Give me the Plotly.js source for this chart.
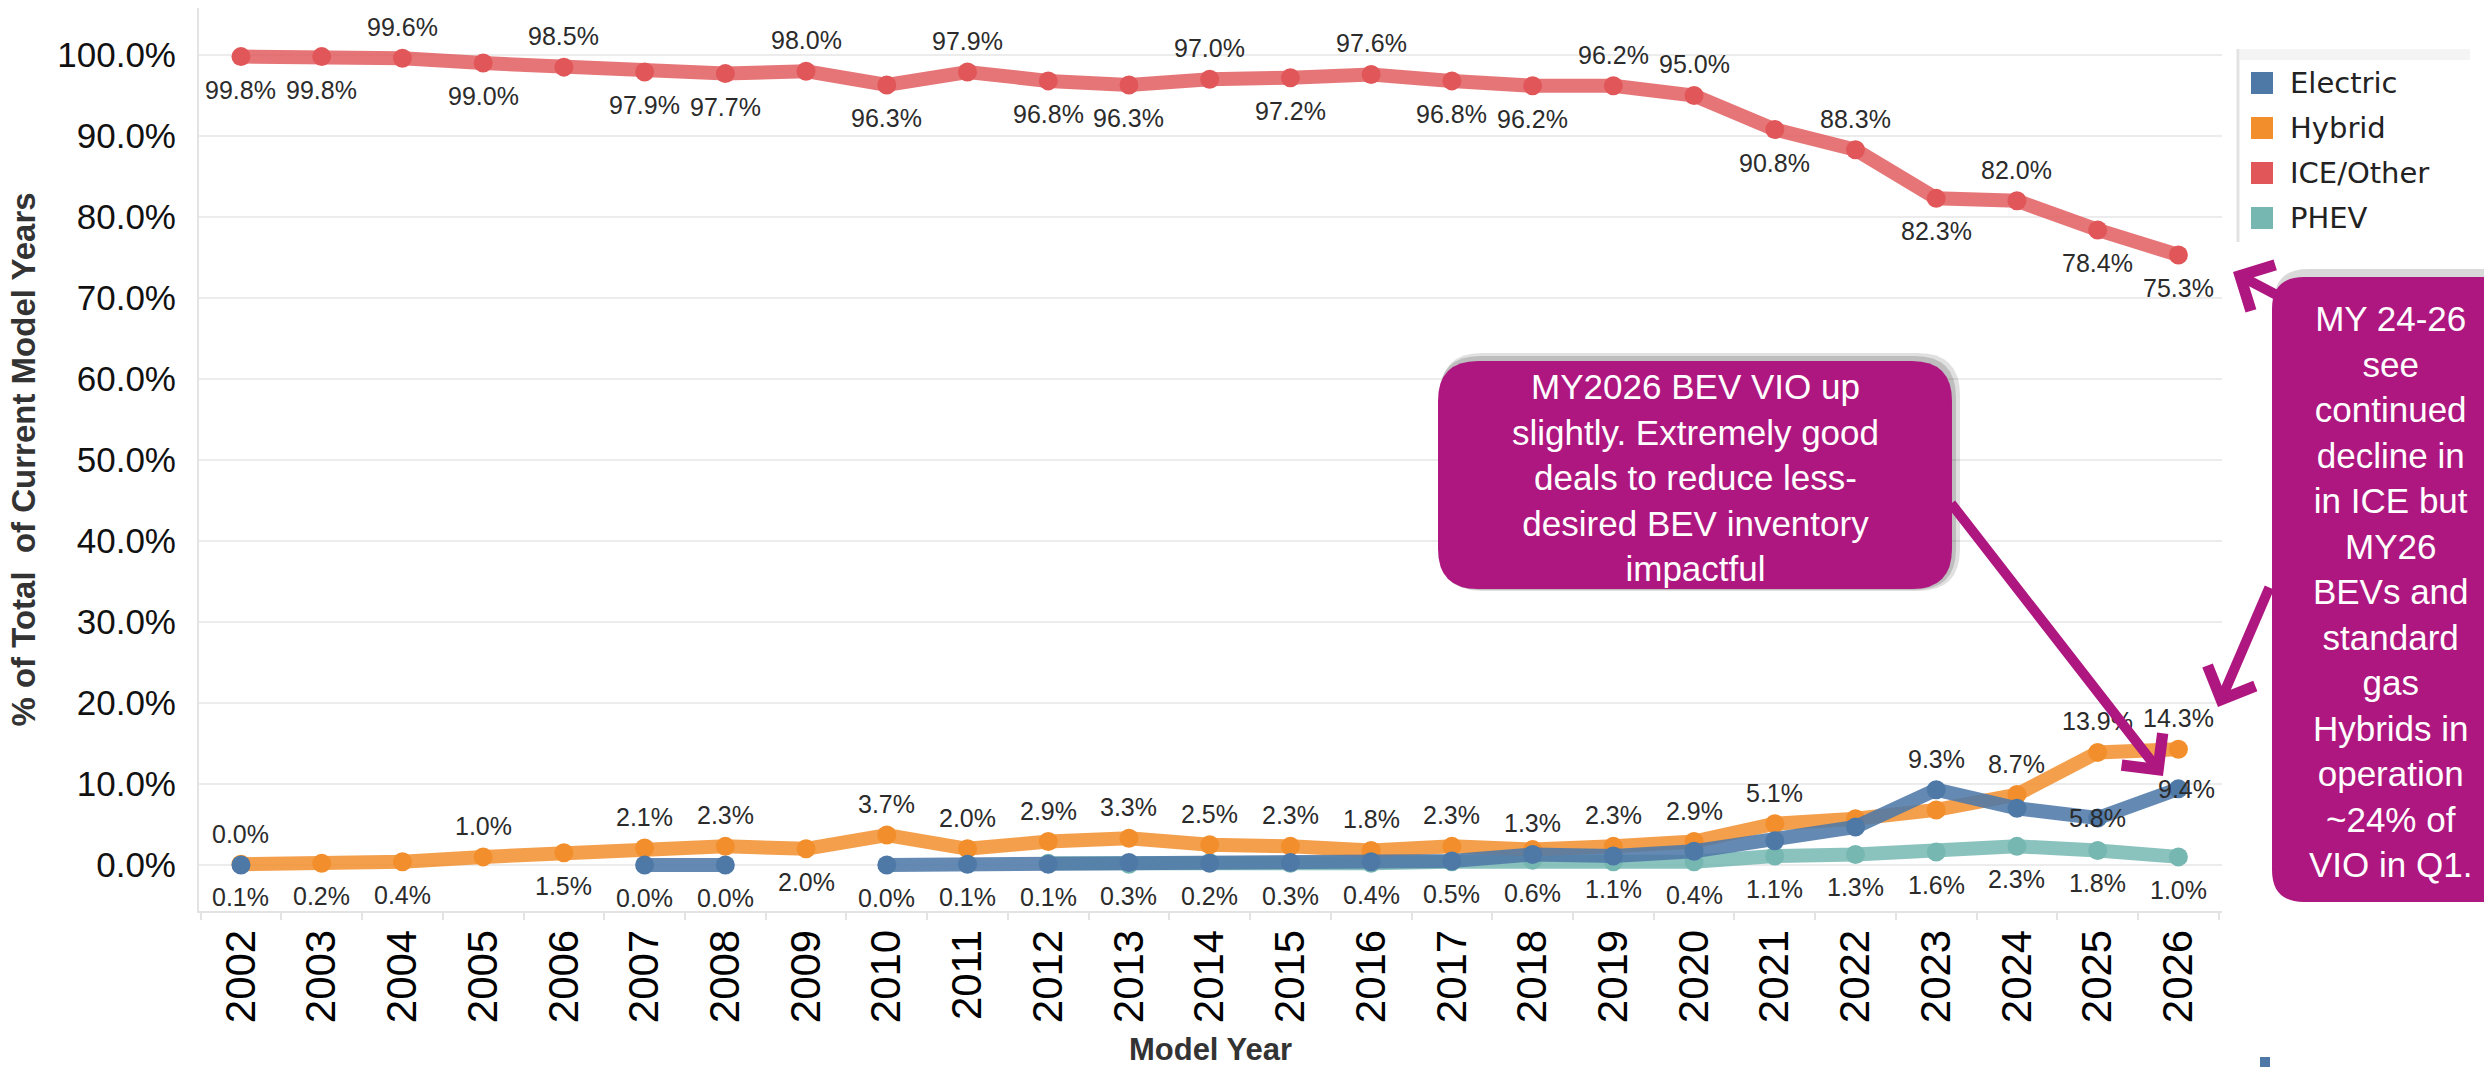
<!DOCTYPE html>
<html><head><meta charset="utf-8">
<script src="https://cdn.plot.ly/plotly-3.0.1.min.js"></script>
<style>html,body{margin:0;padding:0;background:#fff;overflow:hidden;} #chart{width:2484px;height:1067px;}</style>
</head><body><div id="chart"></div>
<script>
// ---------- data ----------
const years = ['2002','2003','2004','2005','2006','2007','2008','2009','2010','2011','2012','2013','2014','2015','2016','2017','2018','2019','2020','2021','2022','2023','2024','2025','2026'];
const electric = [0.0,null,null,null,null,0.0,0.0,null,0.0,0.1,0.1,0.3,0.2,0.3,0.4,0.5,1.3,1.1,1.7,3.0,4.7,9.3,7.0,5.8,9.4];
const hybrid   = [0.1,0.2,0.4,1.0,1.5,2.1,2.3,2.0,3.7,2.0,2.9,3.3,2.5,2.3,1.8,2.3,1.9,2.3,2.9,5.1,5.7,6.8,8.7,13.9,14.3];
const ice      = [99.8,99.8,99.6,99.0,98.5,97.9,97.7,98.0,96.3,97.9,96.8,96.3,97.0,97.2,97.6,96.8,96.2,96.2,95.0,90.8,88.3,82.3,82.0,78.4,75.3];
const phev     = [null,null,null,null,null,null,null,null,null,null,0.2,0.1,0.3,0.2,0.2,0.4,0.6,0.4,0.4,1.1,1.3,1.6,2.3,1.8,1.0];
const seriesNames = ['Electric','Hybrid','ICE/Other','PHEV'];
const yTicks = [0,10,20,30,40,50,60,70,80,90,100];
const note1 = ['MY2026 BEV VIO up','slightly. Extremely good','deals to reduce less-','desired BEV inventory','impactful'];
const note2 = ['MY 24-26','see','continued','decline in','in ICE but','MY26','BEVs and','standard','gas','Hybrids in','operation','~24% of','VIO in Q1.'];

// label placement (a = above, b = below, c = on point, r = right of point, '' = none)
const elecPos = ['a','','','','','b','b','','b','b','b','b','b','b','b','b','a','b','','','','a','','c','r'];
const hybPos  = ['b','b','b','a','b','a','a','b','a','a','a','a','a','a','a','a','','a','a','a','','','a','a','a'];
const icePos  = ['b','b','a','b','a','b','b','a','b','a','b','b','a','b','a','b','b','a','a','b','a','b','a','b','b'];
const phevPos = ['','','','','','','','','','','','','','','','','b','','b','b','b','b','b','b','b'];

// ---------- styles ----------
const colors = {Electric:'#4E79A7', Hybrid:'#F28E2B', 'ICE/Other':'#E15759', PHEV:'#76B7B2'};
const lineRGBA = {Electric:'rgba(78,121,167,0.88)', Hybrid:'rgba(242,142,43,0.85)', 'ICE/Other':'rgba(225,87,89,0.82)', PHEV:'rgba(118,183,178,0.85)'};
const boxColor = '#AF1780';

const L=199, R=2222, T=8, B=911;
const px = x => (x-L)/(R-L);
const py = y => (B-y)/(B-T);
function rr(x0,y0,x1,y1,r){
  const P=(x,y)=>px(x).toFixed(5)+','+py(y).toFixed(5);
  return 'M'+P(x0+r,y0)+' L'+P(x1-r,y0)+' Q'+P(x1,y0)+' '+P(x1,y0+r)+
         ' L'+P(x1,y1-r)+' Q'+P(x1,y1)+' '+P(x1-r,y1)+
         ' L'+P(x0+r,y1)+' Q'+P(x0,y1)+' '+P(x0,y1-r)+
         ' L'+P(x0,y0+r)+' Q'+P(x0,y0)+' '+P(x0+r,y0)+' Z';
}

const order = [['ICE/Other',ice,icePos],['PHEV',phev,phevPos],['Hybrid',hybrid,hybPos],['Electric',electric,elecPos]];
const traces = order.map(([name,vals]) => ({
  type:'scatter', mode:'lines+markers', name:name, x:years, y:vals,
  line:{color:lineRGBA[name], width:14}, marker:{color:colors[name], size:19},
  connectgaps:false, showlegend:false, hoverinfo:'skip', cliponaxis:false
}));

const annotations = [];
order.forEach(([name,vals,pos]) => {
  vals.forEach((v,i) => {
    const p = pos[i];
    if(!p || v===null) return;
    annotations.push({x:i, y:v, xref:'x', yref:'y', text:v.toFixed(1)+'%', showarrow:false,
      font:{family:'Arial', size:25, color:'#2b2b2b'},
      yshift: p==='a'?31 : (p==='b'?-33:0), xshift: p==='r'?8:0});
  });
});

// legend
seriesNames.forEach((n,i) => {
  annotations.push({xref:'paper', yref:'paper', x:px(2288), y:py(83+45*i), xanchor:'left', yanchor:'middle',
    text:n, showarrow:false, font:{family:'DejaVu Sans', size:29, color:'#222'}});
});

// callout texts
annotations.push({xref:'paper', yref:'paper', x:px(1695), y:py(477), xanchor:'center', yanchor:'middle', align:'center',
  text:note1.join('<br>'), showarrow:false, font:{family:'Arial', size:35, color:'#fff'}});
annotations.push({xref:'paper', yref:'paper', x:px(2390), y:py(591), xanchor:'center', yanchor:'middle', align:'center',
  text:note2.join('<br>'), showarrow:false, font:{family:'Arial', size:35, color:'#fff'}});

// arrows
const arrow = (tx,ty,sx,sy,w) => ({xref:'paper', yref:'paper', x:px(tx), y:py(ty), ax:sx-tx, ay:sy-ty, text:'',
  showarrow:true, arrowhead:4, arrowsize:1, arrowwidth:w, arrowcolor:boxColor, standoff:0, startstandoff:0});
annotations.push(arrow(2163,776,1950,502,10));
annotations.push(arrow(2218,707,2270,586,10));
annotations.push(arrow(2233,272,2290,302,10));

const shapes = [
  {type:'line', xref:'paper', x0:0, x1:1, yref:'y', y0:0, y1:0, line:{color:'#a0a0a0', width:1.5, dash:'dot'}, layer:'below'},
  // legend frame
  {type:'rect', xref:'paper', yref:'paper', x0:px(2240), x1:px(2470), y0:py(60), y1:py(49), fillcolor:'#f4f4f4', line:{width:0}},
  {type:'line', xref:'paper', yref:'paper', x0:px(2238), x1:px(2238), y0:py(49), y1:py(242), line:{color:'#e2e2e2', width:3}},
  // callout shadows & boxes
  {type:'path', xref:'paper', yref:'paper', path:rr(1440,353,1960,591,42), fillcolor:'rgba(0,0,0,0.12)', line:{width:0}},
  {type:'path', xref:'paper', yref:'paper', path:rr(1439,356,1956,590,41), fillcolor:'rgba(0,0,0,0.15)', line:{width:0}},
  {type:'path', xref:'paper', yref:'paper', path:rr(1438,361,1952,589,40), fillcolor:boxColor, line:{width:0}},
  {type:'path', xref:'paper', yref:'paper', path:rr(2274,269,2530,902,34), fillcolor:'rgba(0,0,0,0.15)', line:{width:0}},
  {type:'path', xref:'paper', yref:'paper', path:rr(2272,277,2530,902,32), fillcolor:boxColor, line:{width:0}},
  // small mark at bottom
  {type:'rect', xref:'paper', yref:'paper', x0:px(2260), x1:px(2270), y0:py(1067), y1:py(1057), fillcolor:'#4E79A7', line:{width:0}}
];
seriesNames.forEach((n,i) => {
  const cy = 83+45*i;
  shapes.push({type:'rect', xref:'paper', yref:'paper', x0:px(2251), x1:px(2273), y0:py(cy+11), y1:py(cy-11), fillcolor:colors[n], line:{width:0}});
});

const layout = {
  width:2484, height:1067, margin:{l:L, r:2484-R, t:T, b:1067-B, pad:0},
  paper_bgcolor:'#fff', plot_bgcolor:'#fff', showlegend:false,
  xaxis:{type:'category', range:[-0.52,24.54], tickangle:-90, automargin:false, fixedrange:true,
    tickfont:{family:'Arial', size:42, color:'#000'}, showgrid:false, zeroline:false,
    showline:true, linecolor:'#e3e3e3', linewidth:2, ticks:'outside', tickson:'boundaries', ticklen:7, tickwidth:2, tickcolor:'#e3e3e3',
    title:{text:'Model Year', standoff:18, font:{family:'Arial', size:31, color:'#333', weight:'bold'}}},
  yaxis:{range:[-5.68,105.8], tickmode:'array', tickvals:yTicks, ticktext:yTicks.map(v => v.toFixed(1)+'%'), automargin:false, fixedrange:true,
    tickfont:{family:'Arial', size:35, color:'#111'}, showgrid:true, gridcolor:'#ececec', gridwidth:2, zeroline:false,
    showline:true, linecolor:'#e3e3e3', linewidth:2, ticks:'outside', ticklen:14, tickcolor:'rgba(0,0,0,0)',
    title:{text:'% of Total\u00a0 of Current Model Years', standoff:12, font:{family:'Arial', size:33, color:'#333', weight:'bold'}}},
  shapes:shapes, annotations:annotations
};
Plotly.newPlot('chart', traces, layout, {displayModeBar:false, staticPlot:true});
</script></body></html>
